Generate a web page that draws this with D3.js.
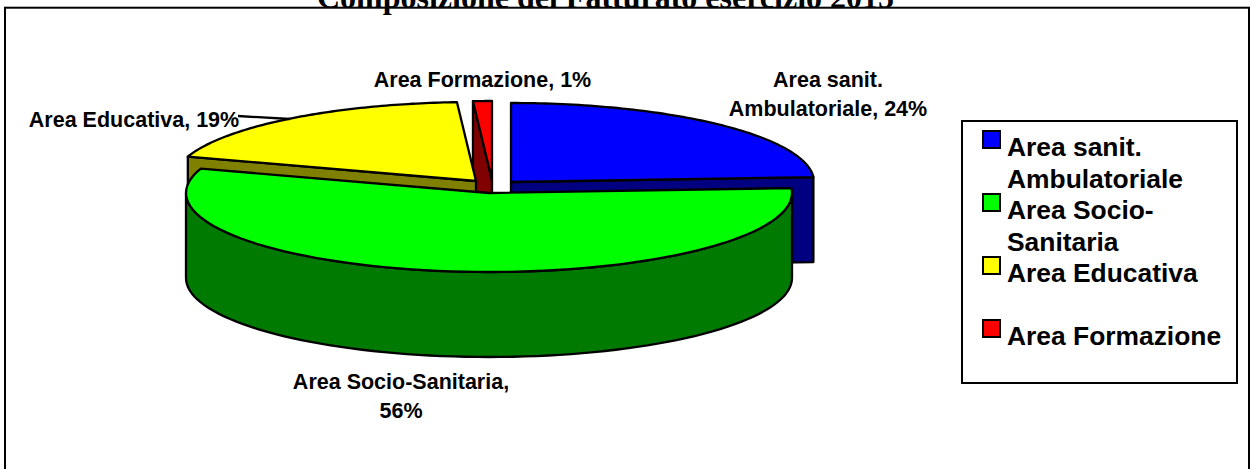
<!DOCTYPE html>
<html>
<head>
<meta charset="utf-8">
<script src="https://cdn.jsdelivr.net/npm/d3@7"></script>
<style>
html, body { margin: 0; padding: 0; background: #fff; overflow: hidden; }
svg { display: block; }
text { font-family: "Liberation Sans", Arial, sans-serif; font-weight: bold; fill: #000; }
</style>
</head>
<body>
<div id="chart"></div>
<script>
// values
const categories = ["Area sanit. Ambulatoriale", "Area Socio-Sanitaria", "Area Educativa", "Area Formazione"];
const shares = [24, 56, 19, 1];
const topColors = ["#0000ff", "#00ff00", "#ffff00", "#ff0000"];
const sideColors = ["#000080", "#007a00", "#808000", "#800000"];
const titleText = "Composizione del Fatturato esercizio 2015";

const width = 1254, height = 469;
const rx = 303, ry = 79, depth = 85;
// exploded slice centres, same order as categories
const centers = [[511, 182], [489, 193], [476, 181], [492, 180]];
// label lines, in category order
const labelLines = [
    { x: 828, lines: ["Area sanit.", "Ambulatoriale, 24%"], y: 87 },
    { x: 401, lines: ["Area Socio-Sanitaria,", "56%"], y: 389 },
    { x: 134, lines: ["Area Educativa, 19%"], y: 127 },
    { x: 482.5, lines: ["Area Formazione, 1%"], y: 87 }
];
const legendLines = [
    ["Area sanit.", "Ambulatoriale"],
    ["Area Socio-", "Sanitaria"],
    ["Area Educativa"],
    ["Area Formazione"]
];

const svg = d3.select("#chart").append("svg")
    .attr("width", width)
    .attr("height", height);

// title sits on the frame line and gets cut by the page edge
svg.append("text")
    .attr("x", 605.5).attr("y", 7.5)
    .attr("text-anchor", "middle")
    .style("font-family", '"Liberation Serif", "Times New Roman", serif')
    .style("font-size", "32px")
    .text(titleText);

svg.append("rect")
    .attr("x", 5).attr("y", 7.7)
    .attr("width", 1244).attr("height", 480)
    .attr("fill", "none").attr("stroke", "#000").attr("stroke-width", 2);

const pie = d3.pie().sort(null).value(d => d);
const arcs = pie(shares);

const line = d3.line();
const pt = (i, a, dy) => [
    centers[i][0] + rx * Math.sin(a),
    centers[i][1] - ry * Math.cos(a) + (dy || 0)
];
// sampled arc between two angles, on the tilted ellipse
const arcPts = (i, a0, a1, dy) => d3.range(0, 81).map(k => pt(i, a0 + (a1 - a0) * k / 80, dy));
const apex = (i, dy) => [centers[i][0], centers[i][1] + (dy || 0)];

const g = svg.append("g")
    .attr("stroke", "#000")
    .attr("stroke-width", 2.3)
    .attr("stroke-linejoin", "round");

function drawTop(i) {
    g.append("path")
        .attr("d", line([apex(i)].concat(arcPts(i, arcs[i].startAngle, arcs[i].endAngle))) + "Z")
        .attr("fill", topColors[i]);
}
// flat cut face running from the centre out to angle a
function drawCut(i, a) {
    g.append("path")
        .attr("d", line([apex(i), pt(i, a), pt(i, a, depth), apex(i, depth)]) + "Z")
        .attr("fill", sideColors[i]);
}
// outer rim, only the part that faces the viewer
function drawRim(i) {
    const a0 = Math.max(arcs[i].startAngle, Math.PI / 2);
    const a1 = Math.min(arcs[i].endAngle, Math.PI * 3 / 2);
    g.append("path")
        .attr("d", line(arcPts(i, a0, a1).concat(arcPts(i, a1, a0, depth))) + "Z")
        .attr("fill", sideColors[i]);
}

// back to front
drawCut(0, arcs[0].endAngle);
drawTop(0);
drawCut(3, arcs[3].startAngle);
drawTop(3);
drawCut(2, arcs[2].startAngle);
drawTop(2);
drawRim(1);
drawTop(1);

// leader line for Area Educativa
g.append("path")
    .attr("fill", "none")
    .attr("d", line([[238, 116], [290, 119]]));

// data labels
labelLines.forEach(l => {
    const t = svg.append("text").attr("text-anchor", "middle").style("font-size", "21.5px");
    l.lines.forEach((s, k) => {
        t.append("tspan").attr("x", l.x).attr("y", l.y + k * 28.5).text(s);
    });
});

// legend
const legend = svg.append("g");
legend.append("rect")
    .attr("x", 962).attr("y", 121)
    .attr("width", 275).attr("height", 262)
    .attr("fill", "#fff").attr("stroke", "#000").attr("stroke-width", 2);

const legendY = d3.scaleOrdinal().domain(categories).range([131, 194, 257, 320]);
categories.forEach((c, i) => {
    legend.append("rect")
        .attr("x", 983).attr("y", legendY(c))
        .attr("width", 17).attr("height", 17)
        .attr("fill", topColors[i]).attr("stroke", "#000").attr("stroke-width", 2);
    const t = legend.append("text").style("font-size", "26.4px");
    legendLines[i].forEach((s, k) => {
        t.append("tspan").attr("x", 1007).attr("y", legendY(c) + 25 + k * 31.5).text(s);
    });
});
</script>
</body>
</html>
